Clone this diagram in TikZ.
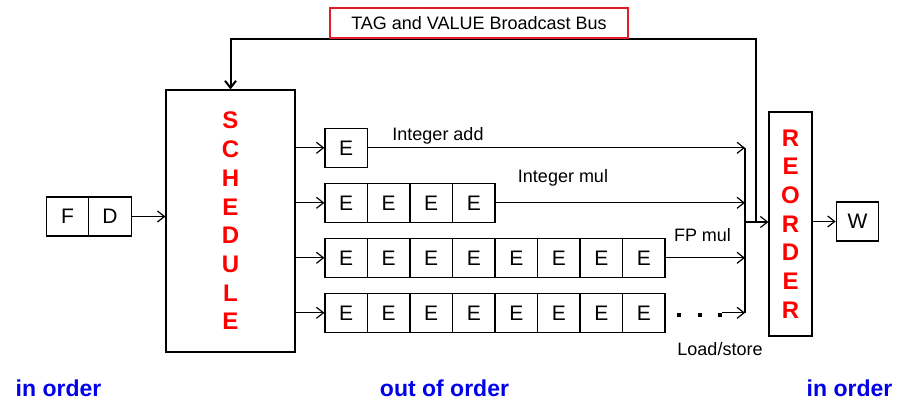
\documentclass[tikz,border=0pt]{standalone}
\usepackage{fontspec}
\setmainfont{Liberation Sans}
\usetikzlibrary{arrows.meta,calc}
\definecolor{busred}{RGB}{225,30,40}
\definecolor{ordblue}{RGB}{0,0,235}
\begin{document}
\begin{tikzpicture}[x=1pt,y=-1pt,
  box/.style={draw,line width=1.2pt,minimum width=42.5pt,minimum height=39pt,inner sep=0pt,font=\fontsize{21}{24}\selectfont},
  conn/.style={line width=1.2pt,-{Straight Barb[length=7pt,width=11pt]}},
  lbl/.style={font=\fontsize{18}{20}\selectfont,inner sep=0pt},
  ord/.style={font=\fontsize{23}{26}\selectfont\bfseries,text=ordblue,inner sep=0pt,anchor=base},
  vert/.style={draw,line width=1.2pt,inner sep=0pt,font=\fontsize{24}{28.7}\selectfont\bfseries,text=red,align=center}]
\useasboundingbox (0,0) rectangle (906,416);
% F / D
\node[box] (F) at (67.5,216.5) {F};
\node[box] (D) at (110,216.5) {D};
% schedule
\node[vert,minimum width=129pt,minimum height=262pt] (S) at (230.5,221) {S\\C\\H\\E\\D\\U\\L\\E};
% E boxes
\foreach \r/\n in {1/1,2/4,3/8,4/8}
  \foreach \i in {1,...,\n}
    \node[box] (E\r-\i) at ({325+42.5*(\i-0.5)},{147.8+55*(\r-1)}) {E};
% reorder and W
\node[vert,minimum width=43pt,minimum height=224pt] (R) at (790.5,224) {R\\E\\O\\R\\D\\E\\R};
\node[box] (W) at (857.5,221.5) {W};
% coordinates
\coordinate (cT) at (745,147.8);
\coordinate (cB) at (745,312.8);
\coordinate (cM) at (745,222);
\coordinate (bJ) at (756,222);
\coordinate (bR) at (756,39);
\coordinate (dE) at (722,312.8);
% connectors
\draw[conn] (D.east) -- (D.east -| S.west);
\foreach \r in {1,...,4}
  \draw[conn] (S.east |- E\r-1.west) -- (E\r-1.west);
\draw[conn] (E1-1.east) -- (E1-1.east -| cT);
\draw[conn] (E2-4.east) -- (E2-4.east -| cT);
\draw[conn] (E3-8.east) -- (E3-8.east -| cT);
\draw[conn] (dE) -- (dE -| cT);
\draw[line width=1.2pt] (cT) -- (cB);
\draw[conn] (cM) -- (cM -| R.west);
\draw[line width=2pt,-{Straight Barb[length=7pt,width=11pt]}] (bJ) -- (bR) -| (S.north);
\draw[conn] (W.west -| R.east) -- (W.west);
% dots
\foreach \x in {679,700,720}
  \fill ({\x-2.25},312.8) rectangle ++(4.5,4.5);
% bus box
\node[draw=busred,line width=1.8pt,minimum width=298pt,minimum height=30pt,fill=white,lbl] (bus) at (479,23) {TAG and VALUE Broadcast Bus};
% labels
\node[lbl] (la) at (438,135.7) {Integer add};
\node[lbl] (lm) at (563,178) {Integer mul};
\node[lbl] (lf) at (702.5,235) {FP mul};
\node[lbl] (ll) at (720,349) {Load/store};
\node[ord] (o1) at (58.5,396.5) {in order};
\node[ord] (o2) at (444.5,396.5) {out of order};
\node[ord] (o3) at (849.5,396.5) {in order};
\end{tikzpicture}
\end{document}
